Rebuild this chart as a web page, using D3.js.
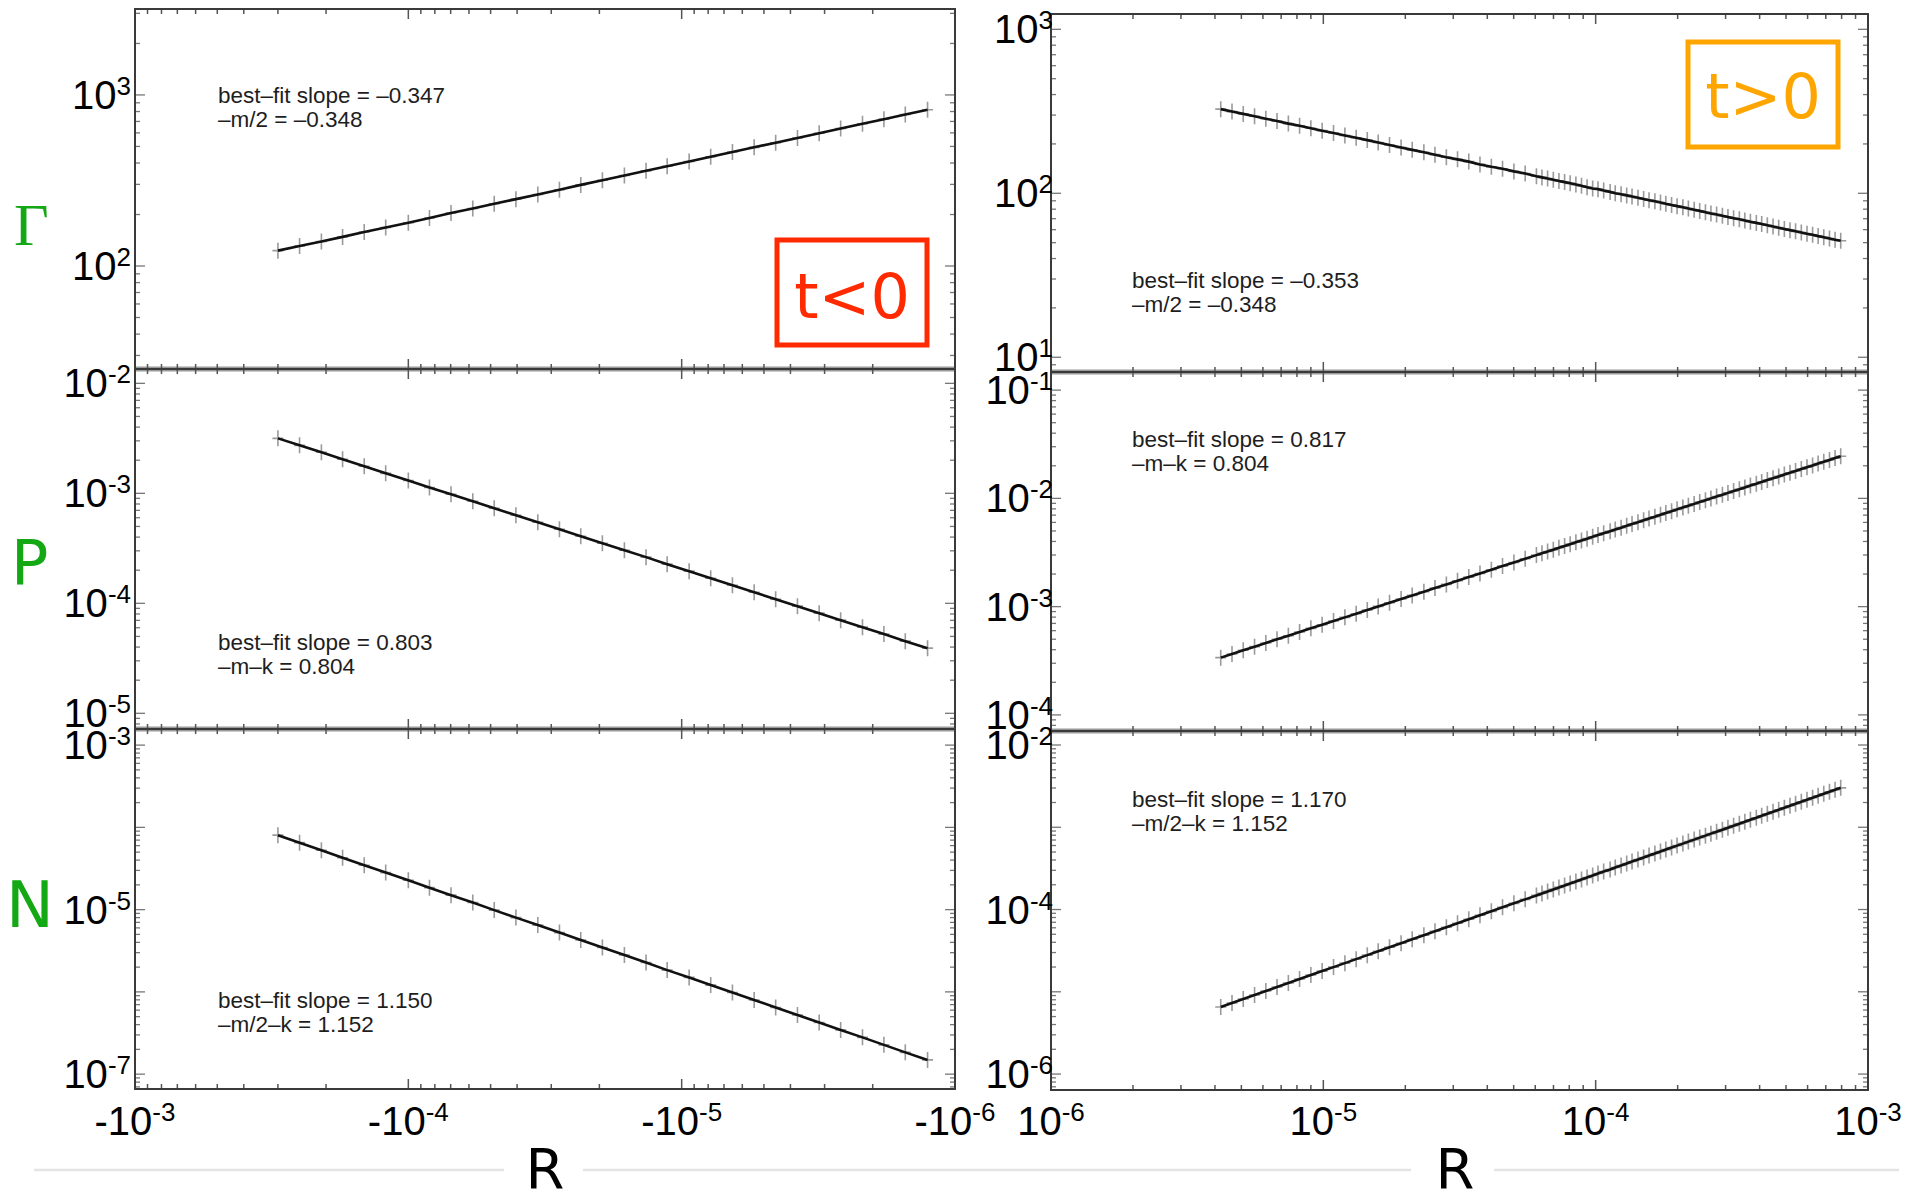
<!DOCTYPE html>
<html>
<head>
<meta charset="utf-8">
<script src="https://cdn.jsdelivr.net/npm/d3@7"></script>
<style>
  body { margin: 0; background: #fff; }
  svg { display: block; }
</style>
</head>
<body>
<svg id="chart" width="1919" height="1195"></svg>
<script>
//--- Data --------------------------------------------------------------------------------------

// t<0 branch : R is negative
var rNeg = [-3.00e-4, -2.50e-4, -2.08e-4, -1.74e-4, -1.45e-4, -1.21e-4, -1.00e-4, -8.37e-5, -6.98e-5, -5.81e-5,
            -4.85e-5, -4.04e-5, -3.36e-5, -2.80e-5, -2.34e-5, -1.95e-5, -1.62e-5, -1.35e-5, -1.13e-5, -9.39e-6,
            -7.83e-6, -6.52e-6, -5.43e-6, -4.53e-6, -3.77e-6, -3.14e-6, -2.62e-6, -2.18e-6, -1.82e-6, -1.52e-6, -1.26e-6];
var gammaNeg = [123, 131, 139, 148, 158, 168, 179, 191, 204, 217, 231, 246, 262, 279, 298, 317, 338, 360, 383, 408,
                435, 464, 494, 526, 560, 597, 636, 678, 722, 769, 819];
var pNeg = [3.16e-3, 2.73e-3, 2.36e-3, 2.04e-3, 1.76e-3, 1.52e-3, 1.31e-3, 1.13e-3, 9.80e-4, 8.47e-4,
            7.31e-4, 6.32e-4, 5.46e-4, 4.71e-4, 4.07e-4, 3.52e-4, 3.04e-4, 2.63e-4, 2.27e-4, 1.96e-4,
            1.69e-4, 1.46e-4, 1.26e-4, 1.09e-4, 9.42e-5, 8.14e-5, 7.03e-5, 6.07e-5, 5.25e-5, 4.53e-5, 3.91e-5];
var nNeg = [8.04e-5, 6.52e-5, 5.28e-5, 4.28e-5, 3.47e-5, 2.82e-5, 2.28e-5, 1.85e-5, 1.50e-5, 1.22e-5,
            9.87e-6, 8.00e-6, 6.49e-6, 5.26e-6, 4.27e-6, 3.46e-6, 2.81e-6, 2.28e-6, 1.84e-6, 1.50e-6,
            1.21e-6, 9.83e-7, 7.97e-7, 6.47e-7, 5.24e-7, 4.25e-7, 3.45e-7, 2.80e-7, 2.27e-7, 1.84e-7, 1.49e-7];

// t>0 branch : R is positive
var rPos = [4.20e-6, 4.62e-6, 5.08e-6, 5.59e-6, 6.15e-6, 6.76e-6, 7.44e-6, 8.18e-6, 9.00e-6, 9.90e-6,
            1.09e-5, 1.20e-5, 1.32e-5, 1.45e-5, 1.59e-5, 1.75e-5, 1.93e-5, 2.12e-5, 2.34e-5, 2.57e-5,
            2.83e-5, 3.11e-5, 3.42e-5, 3.76e-5, 4.14e-5, 4.55e-5, 5.01e-5, 5.51e-5, 6.06e-5, 6.66e-5,
            7.33e-5, 8.06e-5, 8.87e-5, 9.75e-5, 1.07e-4, 1.18e-4, 1.30e-4, 1.43e-4, 1.57e-4, 1.73e-4,
            1.90e-4, 2.09e-4, 2.30e-4, 2.53e-4, 2.78e-4, 3.06e-4, 3.37e-4, 3.70e-4, 4.07e-4, 4.48e-4,
            4.93e-4, 5.42e-4, 5.97e-4, 6.56e-4, 7.22e-4, 7.94e-4];
var gammaPos = [326, 315, 305, 295, 285, 276, 266, 258, 249, 241, 233, 225, 218, 211, 204, 197, 190, 184, 178, 172,
                166, 161, 156, 150, 145, 141, 136, 132, 127, 123, 119, 115, 111, 107, 104, 100, 97.1, 93.9, 90.8, 87.8,
                84.9, 82.1, 79.4, 76.7, 74.2, 71.7, 69.4, 67.1, 64.9, 62.7, 60.6, 58.6, 56.7, 54.8, 53.0, 51.3];
var pPos = [3.38e-4, 3.65e-4, 3.95e-4, 4.27e-4, 4.61e-4, 4.99e-4, 5.39e-4, 5.83e-4, 6.30e-4, 6.81e-4,
            7.36e-4, 7.96e-4, 8.60e-4, 9.30e-4, 1.005e-3, 1.087e-3, 1.175e-3, 1.270e-3, 1.373e-3, 1.484e-3,
            1.604e-3, 1.734e-3, 1.874e-3, 2.026e-3, 2.190e-3, 2.368e-3, 2.559e-3, 2.766e-3, 2.991e-3, 3.233e-3,
            3.495e-3, 3.778e-3, 4.083e-3, 4.415e-3, 4.772e-3, 5.158e-3, 5.576e-3, 6.027e-3, 6.516e-3, 7.044e-3,
            7.614e-3, 8.230e-3, 8.896e-3, 9.618e-3, 1.040e-2, 1.124e-2, 1.215e-2, 1.313e-2, 1.420e-2, 1.535e-2,
            1.659e-2, 1.793e-2, 1.938e-2, 2.096e-2, 2.265e-2, 2.449e-2];
var nPos = [6.54e-6, 7.31e-6, 8.18e-6, 9.14e-6, 1.022e-5, 1.143e-5, 1.278e-5, 1.428e-5, 1.597e-5, 1.785e-5,
            1.996e-5, 2.231e-5, 2.495e-5, 2.789e-5, 3.117e-5, 3.486e-5, 3.897e-5, 4.356e-5, 4.870e-5, 5.445e-5,
            6.087e-5, 6.805e-5, 7.609e-5, 8.506e-5, 9.508e-5, 1.063e-4, 1.189e-4, 1.329e-4, 1.485e-4, 1.661e-4,
            1.857e-4, 2.075e-4, 2.321e-4, 2.594e-4, 2.900e-4, 3.243e-4, 3.625e-4, 4.052e-4, 4.530e-4, 5.065e-4,
            5.662e-4, 6.330e-4, 7.078e-4, 7.912e-4, 8.845e-4, 9.890e-4, 1.106e-3, 1.236e-3, 1.382e-3, 1.545e-3,
            1.727e-3, 1.931e-3, 2.159e-3, 2.413e-3, 2.698e-3, 3.016e-3];

// t>0 branch, the denser run of samples at larger R
var rPosDense = [6.35e-5, 6.99e-5, 7.69e-5, 8.46e-5, 9.30e-5, 1.02e-4, 1.13e-4, 1.24e-4, 1.36e-4, 1.50e-4,
                 1.65e-4, 1.81e-4, 1.99e-4, 2.19e-4, 2.41e-4, 2.65e-4, 2.92e-4, 3.21e-4, 3.53e-4, 3.89e-4,
                 4.27e-4, 4.70e-4, 5.17e-4, 5.69e-4, 6.26e-4, 6.88e-4, 7.57e-4];
var gammaPosDense = [125, 121, 117, 113, 109, 106, 102, 98.7, 95.5, 92.3, 89.3, 86.3, 83.5, 80.7, 78.1, 75.4,
                     73.0, 70.5, 68.2, 66.0, 63.8, 61.7, 59.6, 57.6, 55.8, 53.9, 52.1];
var pPosDense = [3.110e-3, 3.361e-3, 3.634e-3, 3.928e-3, 4.245e-3, 4.590e-3, 4.961e-3, 5.363e-3, 5.797e-3, 6.266e-3,
                 6.775e-3, 7.324e-3, 7.916e-3, 8.557e-3, 9.249e-3, 1.000e-2, 1.081e-2, 1.169e-2, 1.263e-2, 1.365e-2,
                 1.476e-2, 1.596e-2, 1.725e-2, 1.864e-2, 2.015e-2, 2.179e-2, 2.355e-2];
var nPosDense = [1.570e-4, 1.756e-4, 1.963e-4, 2.194e-4, 2.454e-4, 2.743e-4, 3.066e-4, 3.429e-4, 3.833e-4, 4.284e-4,
                 4.790e-4, 5.355e-4, 5.986e-4, 6.693e-4, 7.484e-4, 8.365e-4, 9.352e-4, 1.046e-3, 1.169e-3, 1.307e-3,
                 1.461e-3, 1.634e-3, 1.826e-3, 2.042e-3, 2.283e-3, 2.551e-3, 2.853e-3];

// axis domains and labelled ticks
var xDomainNeg = [-1e-3, -1e-6];
var xDomainPos = [1e-6, 1e-3];
var xTicksNeg = [-1e-3, -1e-4, -1e-5, -1e-6];
var xTicksPos = [1e-6, 1e-5, 1e-4, 1e-3];

var gammaNegDomain = [25.0, 3180], gammaNegTicks = [1e2, 1e3];
var pNegDomain = [7.2e-6, 1.35e-2], pNegTicks = [1e-2, 1e-3, 1e-4, 1e-5];
var nNegDomain = [6.6e-8, 1.57e-3], nNegTicks = [1e-3, 1e-5, 1e-7];
var gammaPosDomain = [8.13, 1240], gammaPosTicks = [1e1, 1e2, 1e3];
var pPosDomain = [7.1e-5, 0.147], pPosTicks = [1e-1, 1e-2, 1e-3, 1e-4];
var nPosDomain = [6.4e-7, 1.48e-2], nPosTicks = [1e-2, 1e-4, 1e-6];

// fit annotations
var fitGammaNeg = ["best\u2013fit slope = \u20130.347", "\u2013m/2 = \u20130.348"];
var fitPNeg = ["best\u2013fit slope = 0.803", "\u2013m\u2013k = 0.804"];
var fitNNeg = ["best\u2013fit slope = 1.150", "\u2013m/2\u2013k = 1.152"];
var fitGammaPos = ["best\u2013fit slope = \u20130.353", "\u2013m/2 = \u20130.348"];
var fitPPos = ["best\u2013fit slope = 0.817", "\u2013m\u2013k = 0.804"];
var fitNPos = ["best\u2013fit slope = 1.170", "\u2013m/2\u2013k = 1.152"];

var rowNames = ["\u0393", "P", "N"];


//--- Layout --------------------------------------------------------------------------------------

var colX = [[135, 955], [1051, 1868]];
var colRows = [[9, 369, 729, 1089], [14, 372, 731, 1090]];

var panels = [
    {col: 0, row: 0, r: rNeg, v: gammaNeg, yDomain: gammaNegDomain, yTicks: gammaNegTicks, fit: fitGammaNeg, fx: 218, fy: 103},
    {col: 0, row: 1, r: rNeg, v: pNeg, yDomain: pNegDomain, yTicks: pNegTicks, fit: fitPNeg, fx: 218, fy: 650},
    {col: 0, row: 2, r: rNeg, v: nNeg, yDomain: nNegDomain, yTicks: nNegTicks, fit: fitNNeg, fx: 218, fy: 1008},
    {col: 1, row: 0, r: rPos.concat(rPosDense), v: gammaPos.concat(gammaPosDense), yDomain: gammaPosDomain, yTicks: gammaPosTicks, fit: fitGammaPos, fx: 1132, fy: 288},
    {col: 1, row: 1, r: rPos.concat(rPosDense), v: pPos.concat(pPosDense), yDomain: pPosDomain, yTicks: pPosTicks, fit: fitPPos, fx: 1132, fy: 447},
    {col: 1, row: 2, r: rPos.concat(rPosDense), v: nPos.concat(nPosDense), yDomain: nPosDomain, yTicks: nPosTicks, fit: fitNPos, fx: 1132, fy: 807}
];

var svg = d3.select("#chart");
var labelFont = "'Liberation Sans', Arial, sans-serif";

function isDecade(t) {
    var l = Math.log10(Math.abs(t));
    return Math.abs(l - Math.round(l)) < 1e-6;
}

function powLabel(sel, t) {
    var e = Math.round(Math.log10(Math.abs(t)));
    sel.append("tspan").text((t < 0 ? "-" : "") + "10");
    sel.append("tspan").attr("font-size", 26).attr("dy", -14).text(e);
}

var dividers = svg.append("g");
var plots = svg.append("g");

panels.forEach(function(p) {
    var cx = colX[p.col];
    var rows = colRows[p.col];
    var top = rows[p.row], bottom = rows[p.row + 1];

    var x = d3.scaleLog().domain(p.col ? xDomainPos : xDomainNeg).range(cx);
    var y = d3.scaleLog().domain(p.yDomain).range([bottom, top]);

    var g = plots.append("g");

    if (p.row > 0) {
        dividers.append("line")
            .attr("x1", cx[0] - 1).attr("x2", cx[1] + 1)
            .attr("y1", top).attr("y2", top)
            .attr("stroke", "#9a9a9a").attr("stroke-width", 5);
    }

    // x ticks, top and bottom, pointing inward
    x.ticks().forEach(function(t) {
        var len = isDecade(t) ? 10 : 5;
        g.append("line").attr("x1", x(t)).attr("x2", x(t)).attr("y1", bottom).attr("y2", bottom - len)
            .attr("stroke", "#555").attr("stroke-width", 1.5);
        g.append("line").attr("x1", x(t)).attr("x2", x(t)).attr("y1", top).attr("y2", top + len)
            .attr("stroke", "#555").attr("stroke-width", 1.5);
    });

    // y ticks, left and right
    y.ticks().forEach(function(t) {
        var len = isDecade(t) ? 10 : 5;
        g.append("line").attr("x1", cx[0]).attr("x2", cx[0] + len).attr("y1", y(t)).attr("y2", y(t))
            .attr("stroke", "#777").attr("stroke-width", 1.3);
        g.append("line").attr("x1", cx[1]).attr("x2", cx[1] - len).attr("y1", y(t)).attr("y2", y(t))
            .attr("stroke", "#777").attr("stroke-width", 1.3);
    });

    g.append("rect")
        .attr("x", cx[0]).attr("y", top)
        .attr("width", cx[1] - cx[0]).attr("height", bottom - top)
        .attr("fill", "none").attr("stroke", "#3a3a3a").attr("stroke-width", 2);

    // data, ordered along R
    var pts = p.r.map(function(r, i) { return [r, p.v[i]]; });
    pts = d3.sort(pts, function(d) { return d[0]; });

    g.selectAll("path.mk")
        .data(pts)
        .join("path")
        .attr("class", "mk")
        .attr("d", "M-5.5,0H5.5M0,-8V8")
        .attr("transform", function(d) { return "translate(" + x(d[0]) + "," + y(d[1]) + ")"; })
        .attr("stroke", "#9a9a9a")
        .attr("stroke-width", 1.6)
        .attr("fill", "none");

    g.append("path")
        .datum(pts)
        .attr("d", d3.line().x(function(d) { return x(d[0]); }).y(function(d) { return y(d[1]); }))
        .attr("fill", "none")
        .attr("stroke", "#111")
        .attr("stroke-width", 2.6);

    // fit text
    p.fit.forEach(function(s, i) {
        g.append("text")
            .attr("x", p.fx).attr("y", p.fy + i * 24)
            .attr("font-family", labelFont).attr("font-size", 22.5)
            .attr("fill", "#1e1e1e")
            .text(s);
    });

    // y labels
    p.yTicks.forEach(function(t) {
        var txt = g.append("text")
            .attr("x", p.col ? cx[0] + 2 : cx[0] - 4)
            .attr("y", y(t) + 14)
            .attr("text-anchor", "end")
            .attr("font-family", labelFont).attr("font-size", 40)
            .attr("fill", "#000");
        powLabel(txt, t);
    });

    // x labels on the bottom row only
    if (p.row === 2) {
        (p.col ? xTicksPos : xTicksNeg).forEach(function(t) {
            var txt = g.append("text")
                .attr("x", x(t))
                .attr("y", 1135)
                .attr("text-anchor", "middle")
                .attr("font-family", labelFont).attr("font-size", 40)
                .attr("fill", "#000");
            powLabel(txt, t);
        });
    }
});

//--- Row names, sign boxes, R labels ------------------------------------------------------------

var green = "#14a814";
svg.append("text").attr("x", 14).attr("y", 245)
    .attr("font-family", "'Liberation Serif', 'Times New Roman', serif").attr("font-size", 60)
    .attr("fill", green).text(rowNames[0]);
svg.append("text").attr("x", 11).attr("y", 584)
    .attr("font-family", "'DejaVu Sans', sans-serif").attr("font-size", 62)
    .attr("fill", green).text(rowNames[1]);
svg.append("text").attr("x", 6).attr("y", 927)
    .attr("font-family", "'DejaVu Sans', sans-serif").attr("font-size", 64)
    .attr("fill", green).text(rowNames[2]);

var signBoxes = [
    {x: 777, y: 240, label: "t<0", color: "#ff2a00", base: 318},
    {x: 1688, y: 42, label: "t>0", color: "#ffa500", base: 118}
];
signBoxes.forEach(function(b) {
    svg.append("rect")
        .attr("x", b.x).attr("y", b.y).attr("width", 150).attr("height", 105)
        .attr("fill", "#fff").attr("stroke", b.color).attr("stroke-width", 5);
    svg.append("text")
        .attr("x", b.x + 75).attr("y", b.base)
        .attr("text-anchor", "middle")
        .attr("font-family", "'DejaVu Sans', sans-serif").attr("font-size", 62)
        .attr("fill", b.color)
        .text(b.label);
});

// light rule along the bottom, broken around the R labels
[[34, 504], [583, 1411], [1494, 1899]].forEach(function(s) {
    svg.append("line").attr("x1", s[0]).attr("x2", s[1]).attr("y1", 1170).attr("y2", 1170)
        .attr("stroke", "#e4e4e4").attr("stroke-width", 2.5);
});
[545, 1455].forEach(function(cx) {
    svg.append("text").attr("x", cx).attr("y", 1188)
        .attr("text-anchor", "middle")
        .attr("font-family", "'DejaVu Sans', sans-serif").attr("font-size", 56)
        .attr("fill", "#000").text("R");
});
</script>
</body>
</html>
